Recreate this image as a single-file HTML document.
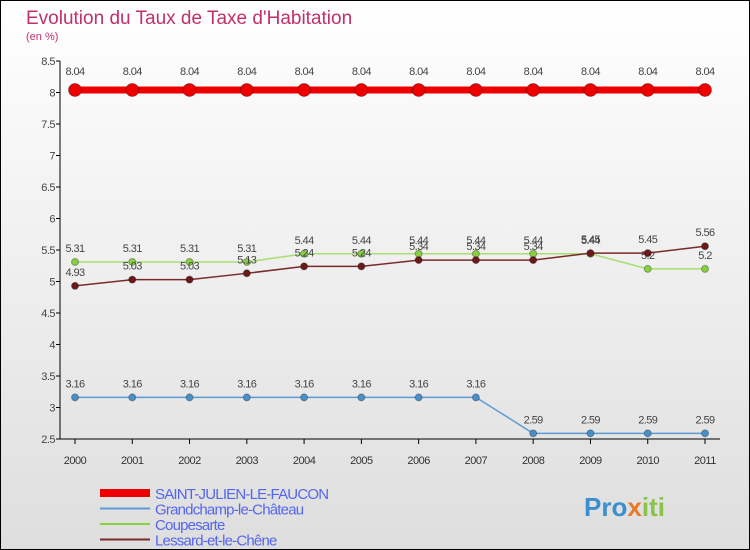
<!DOCTYPE html>
<html><head><meta charset="utf-8"><style>
body{margin:0;width:750px;height:550px;overflow:hidden;font-family:"Liberation Sans",sans-serif}
#c{position:absolute;left:0;top:0}
</style></head><body>
<svg id="c" width="750" height="550">
<defs><linearGradient id="bg" x1="0" y1="0" x2="0" y2="1"><stop offset="0" stop-color="#ffffff"/><stop offset="1" stop-color="#dedede"/></linearGradient></defs>
<rect x="0.5" y="0.5" width="749" height="549" fill="url(#bg)" stroke="#000"/>
<text x="26" y="24" font-size="19" fill="#c0306a">Evolution du Taux de Taxe d'Habitation</text>
<text x="26" y="40" font-size="11" fill="#c0306a">(en %)</text>
<g id="axes"></g><g id="series"></g><g id="legend"></g>
<text x="584" y="516" font-size="26" font-weight="bold" fill="#3a8fd0">Pro<tspan fill="#e8792a">x</tspan><tspan fill="#8bc34a">iti</tspan></text>
</svg>
<script>
const years=["2000","2001","2002","2003","2004","2005","2006","2007","2008","2009","2010","2011"];
const yTicks=[2.5,3,3.5,4,4.5,5,5.5,6,6.5,7,7.5,8,8.5];
const saintJulien=[8.04,8.04,8.04,8.04,8.04,8.04,8.04,8.04,8.04,8.04,8.04,8.04];
const grandchamp=[3.16,3.16,3.16,3.16,3.16,3.16,3.16,3.16,2.59,2.59,2.59,2.59];
const coupesarte=[5.31,5.31,5.31,5.31,5.44,5.44,5.44,5.44,5.44,5.44,5.2,5.2];
const lessard=[4.93,5.03,5.03,5.13,5.24,5.24,5.34,5.34,5.34,5.45,5.45,5.56];
const seriesNames=["SAINT-JULIEN-LE-FAUCON","Grandchamp-le-Château","Coupesarte","Lessard-et-le-Chêne"];
const NS="http://www.w3.org/2000/svg";
const X=i=>75+i*(630/11), Y=v=>439-(v-2.5)*63;
function mk(t,a,p){const e=document.createElementNS(NS,t);for(const k in a)e.setAttribute(k,a[k]);p.appendChild(e);return e;}
const ax=document.getElementById('axes');
let l=mk('line',{x1:60,y1:61,x2:60,y2:439,stroke:'#000'},ax);


yTicks.forEach((v,k)=>{mk('line',{x1:56,x2:60,y1:Y(v),y2:Y(v),stroke:'#000'},ax);
if(k<yTicks.length-1)mk('line',{x1:58,x2:60,y1:Y(v)-31.5,y2:Y(v)-31.5,stroke:'#d00'},ax);
const t=mk('text',{x:55,y:Y(v)+4,'text-anchor':'end','font-size':11,fill:'#444','letter-spacing':'-0.5'},ax);t.textContent=v;

});
l=mk('line',{x1:60,y1:439,x2:720,y2:439,stroke:'#000'},ax);


years.forEach((y,i)=>{mk('line',{x1:X(i),x2:X(i),y1:439,y2:444,stroke:'#000'},ax);
const t=mk('text',{x:X(i),y:464,'text-anchor':'middle','font-size':11,fill:'#333','letter-spacing':'-0.5'},ax);t.textContent=y;

});
const sg=document.getElementById('series');
function draw(d,col,dot,w,r,name,lab){
 const g=mk('g',{},sg);
 
 
 mk('polyline',{points:d.map((v,i)=>X(i)+','+Y(v)).join(' '),fill:'none',stroke:col,'stroke-width':w},g);
 d.forEach((v,i)=>{const c=mk('circle',{cx:X(i),cy:Y(v),r:r,fill:dot,stroke:'rgba(0,0,0,0.3)'},g);
 
 
 const t=mk('text',{x:X(i),y:Y(v)-lab,'text-anchor':'middle','font-size':11,fill:'#444','letter-spacing':'-0.6'},g);t.textContent=String(v);
 
 });
}
draw(grandchamp,'#5b9bd5','#4a90c8',1.5,3.5,'series-grandchamp',10);
draw(coupesarte,'#a8e070','#88d040',1.5,3.5,'series-coupesarte',10);
draw(lessard,'#7a2a2a','#6b1a1a',1.5,3.5,'series-lessard',10);
draw(saintJulien,'#ee0000','#ee0000',7,6.5,'series-saint-julien',15);
const lg=document.getElementById('legend');
const cols=['#ee0000','#5b9bd5','#88d040','#7a2a2a'];
seriesNames.forEach((n,i)=>{const y=493+i*15.5;
 const g=mk('g',{},lg);
 
 
 mk('rect',{x:100,y:i==0?y-4:y-1,width:50,height:i==0?8:2,fill:cols[i]},g);
 const t=mk('text',{x:155,y:y+6,'font-size':15,fill:'#5566ee','letter-spacing':'-0.8'},g);t.textContent=n;});
</script>
</body></html>
